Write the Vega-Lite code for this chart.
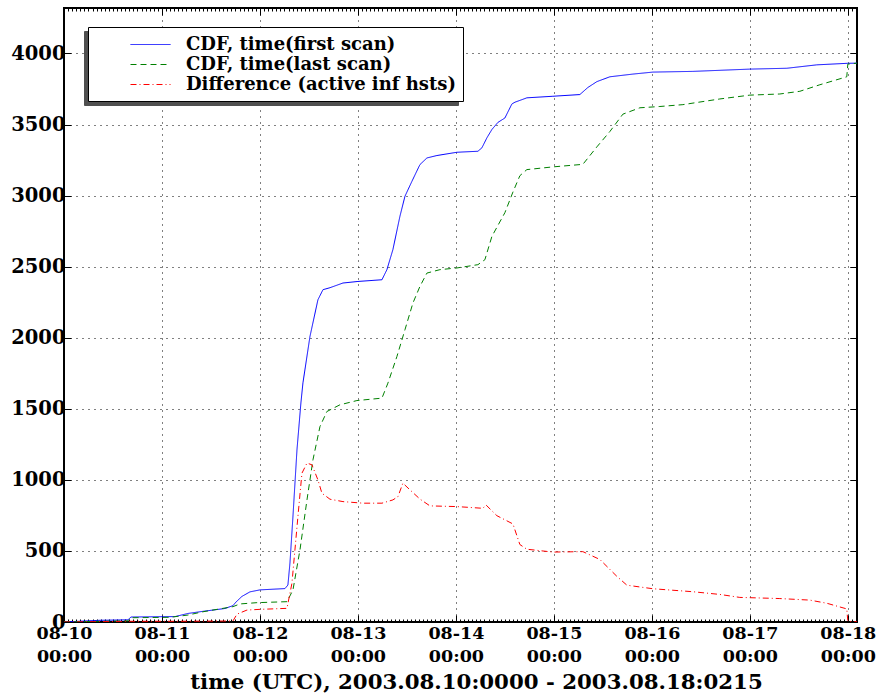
{
  "$schema": "https://vega.github.io/schema/vega-lite/v6.json",
  "width": 793,
  "height": 614,
  "autosize": {"type": "none"},
  "padding": {"left": 64, "top": 8, "right": 23, "bottom": 71},
  "background": "white",
  "config": {
    "view": {"stroke": "black", "strokeWidth": 2},
    "axis": {
      "labelFont": "DejaVu Serif", "labelFontWeight": "bold", "labelFontSize": 17.5, "labelColor": "black",
      "titleFont": "DejaVu Serif", "titleFontWeight": "bold", "titleColor": "black",
      "tickColor": "black", "tickWidth": 1, "domain": false,
      "gridColor": "black", "gridDash": [1, 5], "gridWidth": 1
    }
  },
  "data": {"values": [
    {"t": "2003-08-10T00:00Z", "v": 0, "series": "CDF, time(first scan)"},
    {"t": "2003-08-10T08:49Z", "v": 12, "series": "CDF, time(first scan)"},
    {"t": "2003-08-10T15:40Z", "v": 15, "series": "CDF, time(first scan)"},
    {"t": "2003-08-10T16:24Z", "v": 35, "series": "CDF, time(first scan)"},
    {"t": "2003-08-11T03:11Z", "v": 38, "series": "CDF, time(first scan)"},
    {"t": "2003-08-11T06:22Z", "v": 60, "series": "CDF, time(first scan)"},
    {"t": "2003-08-11T10:02Z", "v": 75, "series": "CDF, time(first scan)"},
    {"t": "2003-08-11T15:26Z", "v": 95, "series": "CDF, time(first scan)"},
    {"t": "2003-08-11T17:23Z", "v": 115, "series": "CDF, time(first scan)"},
    {"t": "2003-08-11T18:07Z", "v": 140, "series": "CDF, time(first scan)"},
    {"t": "2003-08-11T19:35Z", "v": 180, "series": "CDF, time(first scan)"},
    {"t": "2003-08-11T21:33Z", "v": 212, "series": "CDF, time(first scan)"},
    {"t": "2003-08-12T00:00Z", "v": 226, "series": "CDF, time(first scan)"},
    {"t": "2003-08-12T06:07Z", "v": 235, "series": "CDF, time(first scan)"},
    {"t": "2003-08-12T06:51Z", "v": 260, "series": "CDF, time(first scan)"},
    {"t": "2003-08-12T07:21Z", "v": 415, "series": "CDF, time(first scan)"},
    {"t": "2003-08-12T08:05Z", "v": 742, "series": "CDF, time(first scan)"},
    {"t": "2003-08-12T09:04Z", "v": 1211, "series": "CDF, time(first scan)"},
    {"t": "2003-08-12T10:02Z", "v": 1542, "series": "CDF, time(first scan)"},
    {"t": "2003-08-12T10:32Z", "v": 1683, "series": "CDF, time(first scan)"},
    {"t": "2003-08-12T12:15Z", "v": 2009, "series": "CDF, time(first scan)"},
    {"t": "2003-08-12T14:12Z", "v": 2267, "series": "CDF, time(first scan)"},
    {"t": "2003-08-12T15:26Z", "v": 2338, "series": "CDF, time(first scan)"},
    {"t": "2003-08-12T17:09Z", "v": 2352, "series": "CDF, time(first scan)"},
    {"t": "2003-08-12T20:20Z", "v": 2385, "series": "CDF, time(first scan)"},
    {"t": "2003-08-13T00:00Z", "v": 2396, "series": "CDF, time(first scan)"},
    {"t": "2003-08-13T05:53Z", "v": 2408, "series": "CDF, time(first scan)"},
    {"t": "2003-08-13T07:06Z", "v": 2479, "series": "CDF, time(first scan)"},
    {"t": "2003-08-13T08:34Z", "v": 2620, "series": "CDF, time(first scan)"},
    {"t": "2003-08-13T10:17Z", "v": 2854, "series": "CDF, time(first scan)"},
    {"t": "2003-08-13T11:31Z", "v": 2995, "series": "CDF, time(first scan)"},
    {"t": "2003-08-13T13:13Z", "v": 3100, "series": "CDF, time(first scan)"},
    {"t": "2003-08-13T15:11Z", "v": 3218, "series": "CDF, time(first scan)"},
    {"t": "2003-08-13T16:54Z", "v": 3265, "series": "CDF, time(first scan)"},
    {"t": "2003-08-13T19:21Z", "v": 3282, "series": "CDF, time(first scan)"},
    {"t": "2003-08-14T00:15Z", "v": 3305, "series": "CDF, time(first scan)"},
    {"t": "2003-08-14T05:23Z", "v": 3312, "series": "CDF, time(first scan)"},
    {"t": "2003-08-14T06:22Z", "v": 3336, "series": "CDF, time(first scan)"},
    {"t": "2003-08-14T07:35Z", "v": 3406, "series": "CDF, time(first scan)"},
    {"t": "2003-08-14T08:49Z", "v": 3465, "series": "CDF, time(first scan)"},
    {"t": "2003-08-14T10:17Z", "v": 3515, "series": "CDF, time(first scan)"},
    {"t": "2003-08-14T12:00Z", "v": 3546, "series": "CDF, time(first scan)"},
    {"t": "2003-08-14T13:43Z", "v": 3645, "series": "CDF, time(first scan)"},
    {"t": "2003-08-14T14:27Z", "v": 3657, "series": "CDF, time(first scan)"},
    {"t": "2003-08-14T17:23Z", "v": 3688, "series": "CDF, time(first scan)"},
    {"t": "2003-08-14T23:45Z", "v": 3699, "series": "CDF, time(first scan)"},
    {"t": "2003-08-15T06:22Z", "v": 3711, "series": "CDF, time(first scan)"},
    {"t": "2003-08-15T08:20Z", "v": 3761, "series": "CDF, time(first scan)"},
    {"t": "2003-08-15T10:32Z", "v": 3802, "series": "CDF, time(first scan)"},
    {"t": "2003-08-15T13:43Z", "v": 3836, "series": "CDF, time(first scan)"},
    {"t": "2003-08-15T19:21Z", "v": 3855, "series": "CDF, time(first scan)"},
    {"t": "2003-08-16T00:15Z", "v": 3869, "series": "CDF, time(first scan)"},
    {"t": "2003-08-16T10:02Z", "v": 3874, "series": "CDF, time(first scan)"},
    {"t": "2003-08-17T00:00Z", "v": 3890, "series": "CDF, time(first scan)"},
    {"t": "2003-08-17T09:04Z", "v": 3896, "series": "CDF, time(first scan)"},
    {"t": "2003-08-17T16:24Z", "v": 3920, "series": "CDF, time(first scan)"},
    {"t": "2003-08-18T00:00Z", "v": 3931, "series": "CDF, time(first scan)"},
    {"t": "2003-08-18T02:15Z", "v": 3932, "series": "CDF, time(first scan)"},

    {"t": "2003-08-10T00:00Z", "v": 0, "series": "CDF, time(last scan)"},
    {"t": "2003-08-10T08:49Z", "v": 5, "series": "CDF, time(last scan)"},
    {"t": "2003-08-10T15:40Z", "v": 8, "series": "CDF, time(last scan)"},
    {"t": "2003-08-10T16:24Z", "v": 30, "series": "CDF, time(last scan)"},
    {"t": "2003-08-11T01:58Z", "v": 33, "series": "CDF, time(last scan)"},
    {"t": "2003-08-11T06:22Z", "v": 49, "series": "CDF, time(last scan)"},
    {"t": "2003-08-11T10:02Z", "v": 72, "series": "CDF, time(last scan)"},
    {"t": "2003-08-11T17:23Z", "v": 108, "series": "CDF, time(last scan)"},
    {"t": "2003-08-11T19:06Z", "v": 127, "series": "CDF, time(last scan)"},
    {"t": "2003-08-11T23:16Z", "v": 136, "series": "CDF, time(last scan)"},
    {"t": "2003-08-12T06:37Z", "v": 143, "series": "CDF, time(last scan)"},
    {"t": "2003-08-12T08:05Z", "v": 225, "series": "CDF, time(last scan)"},
    {"t": "2003-08-12T09:48Z", "v": 507, "series": "CDF, time(last scan)"},
    {"t": "2003-08-12T11:31Z", "v": 859, "series": "CDF, time(last scan)"},
    {"t": "2003-08-12T12:59Z", "v": 1141, "series": "CDF, time(last scan)"},
    {"t": "2003-08-12T14:42Z", "v": 1375, "series": "CDF, time(last scan)"},
    {"t": "2003-08-12T16:24Z", "v": 1481, "series": "CDF, time(last scan)"},
    {"t": "2003-08-12T19:35Z", "v": 1528, "series": "CDF, time(last scan)"},
    {"t": "2003-08-12T23:45Z", "v": 1558, "series": "CDF, time(last scan)"},
    {"t": "2003-08-13T05:53Z", "v": 1575, "series": "CDF, time(last scan)"},
    {"t": "2003-08-13T07:21Z", "v": 1681, "series": "CDF, time(last scan)"},
    {"t": "2003-08-13T09:33Z", "v": 1868, "series": "CDF, time(last scan)"},
    {"t": "2003-08-13T11:31Z", "v": 2056, "series": "CDF, time(last scan)"},
    {"t": "2003-08-13T13:28Z", "v": 2244, "series": "CDF, time(last scan)"},
    {"t": "2003-08-13T15:11Z", "v": 2361, "series": "CDF, time(last scan)"},
    {"t": "2003-08-13T16:54Z", "v": 2455, "series": "CDF, time(last scan)"},
    {"t": "2003-08-13T20:05Z", "v": 2479, "series": "CDF, time(last scan)"},
    {"t": "2003-08-14T00:15Z", "v": 2491, "series": "CDF, time(last scan)"},
    {"t": "2003-08-14T05:23Z", "v": 2514, "series": "CDF, time(last scan)"},
    {"t": "2003-08-14T07:06Z", "v": 2549, "series": "CDF, time(last scan)"},
    {"t": "2003-08-14T08:49Z", "v": 2713, "series": "CDF, time(last scan)"},
    {"t": "2003-08-14T12:00Z", "v": 2880, "series": "CDF, time(last scan)"},
    {"t": "2003-08-14T13:58Z", "v": 3025, "series": "CDF, time(last scan)"},
    {"t": "2003-08-14T15:40Z", "v": 3140, "series": "CDF, time(last scan)"},
    {"t": "2003-08-14T17:23Z", "v": 3183, "series": "CDF, time(last scan)"},
    {"t": "2003-08-14T23:45Z", "v": 3202, "series": "CDF, time(last scan)"},
    {"t": "2003-08-15T07:06Z", "v": 3220, "series": "CDF, time(last scan)"},
    {"t": "2003-08-15T10:32Z", "v": 3343, "series": "CDF, time(last scan)"},
    {"t": "2003-08-15T13:43Z", "v": 3451, "series": "CDF, time(last scan)"},
    {"t": "2003-08-15T16:54Z", "v": 3573, "series": "CDF, time(last scan)"},
    {"t": "2003-08-15T21:04Z", "v": 3618, "series": "CDF, time(last scan)"},
    {"t": "2003-08-16T01:58Z", "v": 3627, "series": "CDF, time(last scan)"},
    {"t": "2003-08-16T07:36Z", "v": 3640, "series": "CDF, time(last scan)"},
    {"t": "2003-08-16T16:39Z", "v": 3680, "series": "CDF, time(last scan)"},
    {"t": "2003-08-17T00:00Z", "v": 3707, "series": "CDF, time(last scan)"},
    {"t": "2003-08-17T07:21Z", "v": 3715, "series": "CDF, time(last scan)"},
    {"t": "2003-08-17T12:15Z", "v": 3734, "series": "CDF, time(last scan)"},
    {"t": "2003-08-17T17:09Z", "v": 3780, "series": "CDF, time(last scan)"},
    {"t": "2003-08-17T23:45Z", "v": 3836, "series": "CDF, time(last scan)"},
    {"t": "2003-08-18T00:00Z", "v": 3925, "series": "CDF, time(last scan)"},
    {"t": "2003-08-18T02:15Z", "v": 3932, "series": "CDF, time(last scan)"},

    {"t": "2003-08-10T00:00Z", "v": 0, "series": "Difference (active inf hsts)"},
    {"t": "2003-08-10T16:24Z", "v": 5, "series": "Difference (active inf hsts)"},
    {"t": "2003-08-11T03:11Z", "v": 5, "series": "Difference (active inf hsts)"},
    {"t": "2003-08-11T17:23Z", "v": 7, "series": "Difference (active inf hsts)"},
    {"t": "2003-08-11T18:22Z", "v": 55, "series": "Difference (active inf hsts)"},
    {"t": "2003-08-11T20:49Z", "v": 84, "series": "Difference (active inf hsts)"},
    {"t": "2003-08-12T00:00Z", "v": 89, "series": "Difference (active inf hsts)"},
    {"t": "2003-08-12T06:37Z", "v": 96, "series": "Difference (active inf hsts)"},
    {"t": "2003-08-12T07:50Z", "v": 272, "series": "Difference (active inf hsts)"},
    {"t": "2003-08-12T08:34Z", "v": 507, "series": "Difference (active inf hsts)"},
    {"t": "2003-08-12T09:18Z", "v": 742, "series": "Difference (active inf hsts)"},
    {"t": "2003-08-12T10:17Z", "v": 1047, "series": "Difference (active inf hsts)"},
    {"t": "2003-08-12T11:31Z", "v": 1118, "series": "Difference (active inf hsts)"},
    {"t": "2003-08-12T12:44Z", "v": 1106, "series": "Difference (active inf hsts)"},
    {"t": "2003-08-12T14:12Z", "v": 1000, "series": "Difference (active inf hsts)"},
    {"t": "2003-08-12T15:11Z", "v": 906, "series": "Difference (active inf hsts)"},
    {"t": "2003-08-12T17:09Z", "v": 864, "series": "Difference (active inf hsts)"},
    {"t": "2003-08-12T20:20Z", "v": 847, "series": "Difference (active inf hsts)"},
    {"t": "2003-08-13T01:13Z", "v": 836, "series": "Difference (active inf hsts)"},
    {"t": "2003-08-13T05:53Z", "v": 836, "series": "Difference (active inf hsts)"},
    {"t": "2003-08-13T08:34Z", "v": 859, "series": "Difference (active inf hsts)"},
    {"t": "2003-08-13T09:48Z", "v": 882, "series": "Difference (active inf hsts)"},
    {"t": "2003-08-13T11:01Z", "v": 977, "series": "Difference (active inf hsts)"},
    {"t": "2003-08-13T12:44Z", "v": 930, "series": "Difference (active inf hsts)"},
    {"t": "2003-08-13T15:11Z", "v": 865, "series": "Difference (active inf hsts)"},
    {"t": "2003-08-13T17:38Z", "v": 817, "series": "Difference (active inf hsts)"},
    {"t": "2003-08-14T00:15Z", "v": 812, "series": "Difference (active inf hsts)"},
    {"t": "2003-08-14T06:37Z", "v": 800, "series": "Difference (active inf hsts)"},
    {"t": "2003-08-14T07:21Z", "v": 824, "series": "Difference (active inf hsts)"},
    {"t": "2003-08-14T10:02Z", "v": 748, "series": "Difference (active inf hsts)"},
    {"t": "2003-08-14T13:58Z", "v": 690, "series": "Difference (active inf hsts)"},
    {"t": "2003-08-14T15:40Z", "v": 545, "series": "Difference (active inf hsts)"},
    {"t": "2003-08-14T17:23Z", "v": 512, "series": "Difference (active inf hsts)"},
    {"t": "2003-08-14T23:45Z", "v": 492, "series": "Difference (active inf hsts)"},
    {"t": "2003-08-15T07:06Z", "v": 495, "series": "Difference (active inf hsts)"},
    {"t": "2003-08-15T11:16Z", "v": 440, "series": "Difference (active inf hsts)"},
    {"t": "2003-08-15T15:26Z", "v": 321, "series": "Difference (active inf hsts)"},
    {"t": "2003-08-15T17:53Z", "v": 259, "series": "Difference (active inf hsts)"},
    {"t": "2003-08-16T00:15Z", "v": 234, "series": "Difference (active inf hsts)"},
    {"t": "2003-08-16T10:02Z", "v": 213, "series": "Difference (active inf hsts)"},
    {"t": "2003-08-16T16:39Z", "v": 194, "series": "Difference (active inf hsts)"},
    {"t": "2003-08-16T21:33Z", "v": 173, "series": "Difference (active inf hsts)"},
    {"t": "2003-08-17T07:21Z", "v": 165, "series": "Difference (active inf hsts)"},
    {"t": "2003-08-17T14:42Z", "v": 154, "series": "Difference (active inf hsts)"},
    {"t": "2003-08-17T18:51Z", "v": 132, "series": "Difference (active inf hsts)"},
    {"t": "2003-08-17T23:45Z", "v": 92, "series": "Difference (active inf hsts)"},
    {"t": "2003-08-18T00:00Z", "v": 5, "series": "Difference (active inf hsts)"},
    {"t": "2003-08-18T02:15Z", "v": 2, "series": "Difference (active inf hsts)"}
  ]},
  "layer": [
    {
      "mark": {"type": "line", "opacity": 0},
      "encoding": {
        "x": {
          "field": "t", "type": "temporal",
          "scale": {"type": "utc", "domain": [{"year": 2003, "month": 8, "date": 10, "utc": true}, {"year": 2003, "month": 8, "date": 18, "hours": 2, "minutes": 15, "utc": true}]},
          "axis": {
            "orient": "top", "title": null, "labels": false, "grid": false,
            "values": [
              1060473600000, 1060477200000, 1060480800000, 1060484400000, 1060488000000, 1060491600000, 1060495200000, 1060498800000, 1060502400000, 1060506000000, 1060509600000, 1060513200000, 1060516800000, 1060520400000, 1060524000000, 1060527600000, 1060531200000, 1060534800000, 1060538400000, 1060542000000, 1060545600000, 1060549200000, 1060552800000, 1060556400000,
              1060560000000, 1060563600000, 1060567200000, 1060570800000, 1060574400000, 1060578000000, 1060581600000, 1060585200000, 1060588800000, 1060592400000, 1060596000000, 1060599600000, 1060603200000, 1060606800000, 1060610400000, 1060614000000, 1060617600000, 1060621200000, 1060624800000, 1060628400000, 1060632000000, 1060635600000, 1060639200000, 1060642800000,
              1060646400000, 1060650000000, 1060653600000, 1060657200000, 1060660800000, 1060664400000, 1060668000000, 1060671600000, 1060675200000, 1060678800000, 1060682400000, 1060686000000, 1060689600000, 1060693200000, 1060696800000, 1060700400000, 1060704000000, 1060707600000, 1060711200000, 1060714800000, 1060718400000, 1060722000000, 1060725600000, 1060729200000,
              1060732800000, 1060736400000, 1060740000000, 1060743600000, 1060747200000, 1060750800000, 1060754400000, 1060758000000, 1060761600000, 1060765200000, 1060768800000, 1060772400000, 1060776000000, 1060779600000, 1060783200000, 1060786800000, 1060790400000, 1060794000000, 1060797600000, 1060801200000, 1060804800000, 1060808400000, 1060812000000, 1060815600000,
              1060819200000, 1060822800000, 1060826400000, 1060830000000, 1060833600000, 1060837200000, 1060840800000, 1060844400000, 1060848000000, 1060851600000, 1060855200000, 1060858800000, 1060862400000, 1060866000000, 1060869600000, 1060873200000, 1060876800000, 1060880400000, 1060884000000, 1060887600000, 1060891200000, 1060894800000, 1060898400000, 1060902000000,
              1060905600000, 1060909200000, 1060912800000, 1060916400000, 1060920000000, 1060923600000, 1060927200000, 1060930800000, 1060934400000, 1060938000000, 1060941600000, 1060945200000, 1060948800000, 1060952400000, 1060956000000, 1060959600000, 1060963200000, 1060966800000, 1060970400000, 1060974000000, 1060977600000, 1060981200000, 1060984800000, 1060988400000,
              1060992000000, 1060995600000, 1060999200000, 1061002800000, 1061006400000, 1061010000000, 1061013600000, 1061017200000, 1061020800000, 1061024400000, 1061028000000, 1061031600000, 1061035200000, 1061038800000, 1061042400000, 1061046000000, 1061049600000, 1061053200000, 1061056800000, 1061060400000, 1061064000000, 1061067600000, 1061071200000, 1061074800000,
              1061078400000, 1061082000000, 1061085600000, 1061089200000, 1061092800000, 1061096400000, 1061100000000, 1061103600000, 1061107200000, 1061110800000, 1061114400000, 1061118000000, 1061121600000, 1061125200000, 1061128800000, 1061132400000, 1061136000000, 1061139600000, 1061143200000, 1061146800000, 1061150400000, 1061154000000, 1061157600000, 1061161200000,
              1061164800000, 1061168400000, 1061172000000
            ],
            "tickSize": {"condition": {"test": "utchours(datum.value) == 0", "value": -7}, "value": -3}
          }
        },
        "y": {
          "field": "v", "type": "quantitative",
          "scale": {"domain": [0, 4320], "nice": false, "zero": true},
          "axis": {"orient": "right", "title": null, "labels": false, "grid": false, "values": [0, 500, 1000, 1500, 2000, 2500, 3000, 3500, 4000], "tickSize": -7}
        },
        "color": {
          "field": "series", "type": "nominal",
          "scale": {"domain": ["CDF, time(first scan)", "CDF, time(last scan)", "Difference (active inf hsts)"], "range": ["#505050", "#505050", "#505050"]},
          "legend": {
            "title": null, "orient": "none", "legendX": 20, "legendY": 23, "zindex": 1,
            "labelFont": "DejaVu Serif", "labelFontWeight": "bold", "labelFontSize": 18,
            "labelExpr": "''",
            "symbolType": "M-2,0H2", "symbolSize": 400, "symbolStrokeWidth": 1, "symbolOpacity": 0,
            "symbolOffset": 45, "labelOffset": 294, "padding": 7,
            "strokeColor": "#505050", "fillColor": "#505050", "rowPadding": 0
          }
        }
      }
    },
    {
      "mark": {"type": "line", "strokeWidth": 1, "clip": true},
      "encoding": {
        "x": {
          "field": "t", "type": "temporal",
          "scale": {"type": "utc", "domain": [{"year": 2003, "month": 8, "date": 10, "utc": true}, {"year": 2003, "month": 8, "date": 18, "hours": 2, "minutes": 15, "utc": true}]},
          "axis": {
            "orient": "bottom",
            "title": "time (UTC), 2003.08.10:0000 - 2003.08.18:0215",
            "titleFontSize": 21.3, "titleBaseline": "alphabetic", "titleY": 66, "titleX": 412, "titleAlign": "center",
            "values": [
              1060473600000, 1060477200000, 1060480800000, 1060484400000, 1060488000000, 1060491600000, 1060495200000, 1060498800000, 1060502400000, 1060506000000, 1060509600000, 1060513200000, 1060516800000, 1060520400000, 1060524000000, 1060527600000, 1060531200000, 1060534800000, 1060538400000, 1060542000000, 1060545600000, 1060549200000, 1060552800000, 1060556400000,
              1060560000000, 1060563600000, 1060567200000, 1060570800000, 1060574400000, 1060578000000, 1060581600000, 1060585200000, 1060588800000, 1060592400000, 1060596000000, 1060599600000, 1060603200000, 1060606800000, 1060610400000, 1060614000000, 1060617600000, 1060621200000, 1060624800000, 1060628400000, 1060632000000, 1060635600000, 1060639200000, 1060642800000,
              1060646400000, 1060650000000, 1060653600000, 1060657200000, 1060660800000, 1060664400000, 1060668000000, 1060671600000, 1060675200000, 1060678800000, 1060682400000, 1060686000000, 1060689600000, 1060693200000, 1060696800000, 1060700400000, 1060704000000, 1060707600000, 1060711200000, 1060714800000, 1060718400000, 1060722000000, 1060725600000, 1060729200000,
              1060732800000, 1060736400000, 1060740000000, 1060743600000, 1060747200000, 1060750800000, 1060754400000, 1060758000000, 1060761600000, 1060765200000, 1060768800000, 1060772400000, 1060776000000, 1060779600000, 1060783200000, 1060786800000, 1060790400000, 1060794000000, 1060797600000, 1060801200000, 1060804800000, 1060808400000, 1060812000000, 1060815600000,
              1060819200000, 1060822800000, 1060826400000, 1060830000000, 1060833600000, 1060837200000, 1060840800000, 1060844400000, 1060848000000, 1060851600000, 1060855200000, 1060858800000, 1060862400000, 1060866000000, 1060869600000, 1060873200000, 1060876800000, 1060880400000, 1060884000000, 1060887600000, 1060891200000, 1060894800000, 1060898400000, 1060902000000,
              1060905600000, 1060909200000, 1060912800000, 1060916400000, 1060920000000, 1060923600000, 1060927200000, 1060930800000, 1060934400000, 1060938000000, 1060941600000, 1060945200000, 1060948800000, 1060952400000, 1060956000000, 1060959600000, 1060963200000, 1060966800000, 1060970400000, 1060974000000, 1060977600000, 1060981200000, 1060984800000, 1060988400000,
              1060992000000, 1060995600000, 1060999200000, 1061002800000, 1061006400000, 1061010000000, 1061013600000, 1061017200000, 1061020800000, 1061024400000, 1061028000000, 1061031600000, 1061035200000, 1061038800000, 1061042400000, 1061046000000, 1061049600000, 1061053200000, 1061056800000, 1061060400000, 1061064000000, 1061067600000, 1061071200000, 1061074800000,
              1061078400000, 1061082000000, 1061085600000, 1061089200000, 1061092800000, 1061096400000, 1061100000000, 1061103600000, 1061107200000, 1061110800000, 1061114400000, 1061118000000, 1061121600000, 1061125200000, 1061128800000, 1061132400000, 1061136000000, 1061139600000, 1061143200000, 1061146800000, 1061150400000, 1061154000000, 1061157600000, 1061161200000,
              1061164800000, 1061168400000, 1061172000000
            ],
            "labelExpr": "utchours(datum.value) == 0 ? [utcFormat(datum.value, '%m-%d'), utcFormat(datum.value, '%H:%M')] : ''",
            "labelLineHeight": 23, "labelFlush": false, "labelOverlap": false,
            "tickSize": {"condition": {"test": "utchours(datum.value) == 0", "value": -7}, "value": -3},
            "gridOpacity": {"condition": {"test": "utchours(datum.value) == 0", "value": 1}, "value": 0},
            "labelPadding": 9, "grid": true
          }
        },
        "y": {
          "field": "v", "type": "quantitative",
          "scale": {"domain": [0, 4320], "nice": false, "zero": true},
          "axis": {
            "orient": "left", "title": null, "format": "d", "labelFontSize": 19.5,
            "values": [0, 500, 1000, 1500, 2000, 2500, 3000, 3500, 4000],
            "tickSize": -7, "labelPadding": 6, "grid": true, "gridOpacity": 1
          }
        },
        "color": {
          "field": "series", "type": "nominal",
          "scale": {"domain": ["CDF, time(first scan)", "CDF, time(last scan)", "Difference (active inf hsts)"], "range": ["#0000ff", "#008000", "#ff0000"]},
          "legend": {
            "title": null, "orient": "none", "legendX": 24, "legendY": 19, "zindex": 2,
            "labelFont": "DejaVu Serif", "labelFontWeight": "bold", "labelFontSize": 18, "labelColor": "black",
            "symbolType": "M-2,0H2", "symbolSize": 400, "symbolStrokeWidth": 1,
            "symbolOffset": 45, "labelOffset": 25, "padding": 7,
            "strokeColor": "black", "fillColor": "white", "rowPadding": 0, "labelLimit": 600
          }
        },
        "strokeDash": {
          "field": "series", "type": "nominal",
          "scale": {"domain": ["CDF, time(first scan)", "CDF, time(last scan)", "Difference (active inf hsts)"], "range": [[1, 0], [6, 4], [6, 3, 1, 3]]},
          "legend": {
            "title": null, "orient": "none", "legendX": 24, "legendY": 19, "zindex": 2,
            "labelFont": "DejaVu Serif", "labelFontWeight": "bold", "labelFontSize": 18, "labelColor": "black",
            "symbolType": "M-2,0H2", "symbolSize": 400, "symbolStrokeWidth": 1,
            "symbolOffset": 45, "labelOffset": 25, "padding": 7,
            "strokeColor": "black", "fillColor": "white", "rowPadding": 0, "labelLimit": 600
          }
        }
      }
    }
  ],
  "resolve": {
    "axis": {"x": "independent", "y": "independent"},
    "scale": {"color": "independent", "strokeDash": "independent"},
    "legend": {"color": "independent", "strokeDash": "independent"}
  }
}
